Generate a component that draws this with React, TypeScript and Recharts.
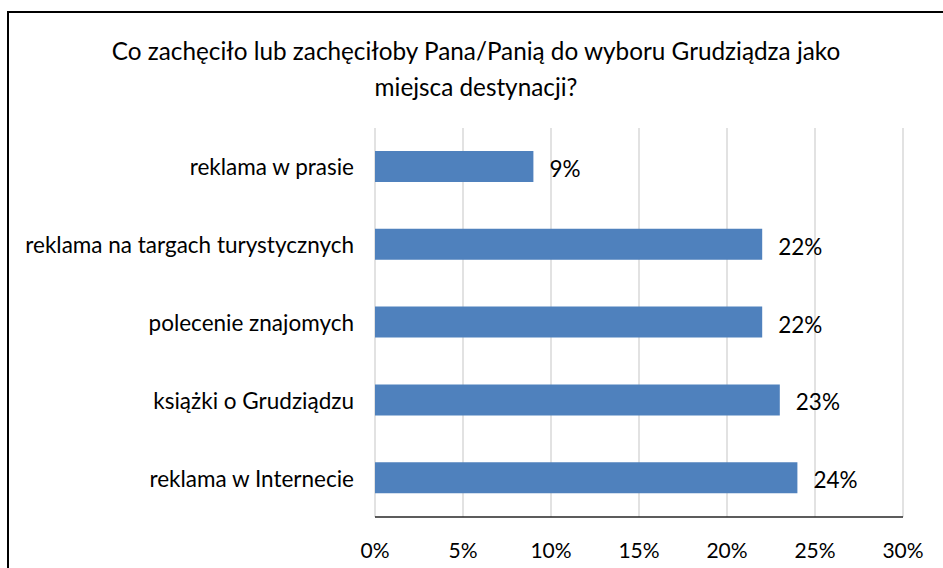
import React from "react";
import { BarChart, Bar, XAxis, YAxis, CartesianGrid, LabelList } from "recharts";

const categories = [
  "reklama w prasie",
  "reklama na targach turystycznych",
  "polecenie znajomych",
  "książki o Grudziądzu",
  "reklama w Internecie",
];
const values = [9, 22, 22, 23, 24];
const xTicks = [0, 5, 10, 15, 20, 25, 30];
const titleLines = [
  "Co zachęciło lub zachęciłoby Pana/Panią do wyboru Grudziądza jako",
  "miejsca destynacji?",
];

const data = categories.map((name, i) => ({ name, value: values[i] }));
const FONT = "Lato, 'Open Sans', sans-serif";

const YTick = (props: any) => {
  const { x, y, payload } = props;
  return (
    <text x={x - 13} y={y} textAnchor="end" dominantBaseline="central" fontSize={22.5} fill="#000" fontFamily={FONT}>
      {payload.value}
    </text>
  );
};

const XTick = (props: any) => {
  const { x, y, payload } = props;
  return (
    <text x={x} y={y + 24} textAnchor="middle" dominantBaseline="central" fontSize={21} fill="#000" fontFamily={FONT}>
      {payload.value}%
    </text>
  );
};

const ValueLabel = (props: any) => {
  const { x, y, width, height, value } = props;
  return (
    <text x={x + width + 16} y={y + height / 2 + 2} textAnchor="start" dominantBaseline="central" fontSize={22.5} fill="#000" fontFamily={FONT}>
      {value}%
    </text>
  );
};

export default function App() {
  return (
    <div style={{ position: "absolute", left: 0, top: 0, width: 943, height: 568, overflow: "hidden", background: "#fff" }}>
      <div style={{ position: "absolute", left: 7, top: 11, width: 950, height: 570, border: "2px solid #000", boxSizing: "border-box" }} />
      <div style={{ position: "absolute", left: 0, top: 0 }}>
        <BarChart
          width={943}
          height={568}
          layout="vertical"
          data={data}
          margin={{ top: 128, right: 40, bottom: 0, left: 0 }}
        >
          <CartesianGrid horizontal={false} stroke="#d9d9d9" strokeWidth={1.5} />
          <XAxis
            type="number"
            domain={[0, 30]}
            ticks={xTicks}
            height={51}
            tickLine={false}
            axisLine={{ stroke: "#262626", strokeWidth: 1.5 }}
            tick={<XTick />}
            interval={0}
          />
          <YAxis
            type="category"
            dataKey="name"
            width={375}
            tickLine={false}
            axisLine={false}
            tick={<YTick />}
            interval={0}
          />
          <Bar dataKey="value" fill="#4f81bd" barSize={31} isAnimationActive={false}>
            <LabelList dataKey="value" content={<ValueLabel />} />
          </Bar>
        </BarChart>
      </div>
      <div style={{ position: "absolute", left: 0, top: 0, width: 943, pointerEvents: "none" }}>
        <svg width={943} height={110}>
          <text x={476} y={50} textAnchor="middle" dominantBaseline="central" fontSize={24.3} fontFamily={FONT} fill="#000">
            {titleLines[0]}
          </text>
          <text x={476} y={86} textAnchor="middle" dominantBaseline="central" fontSize={24.3} fontFamily={FONT} fill="#000">
            {titleLines[1]}
          </text>
        </svg>
      </div>
    </div>
  );
}
